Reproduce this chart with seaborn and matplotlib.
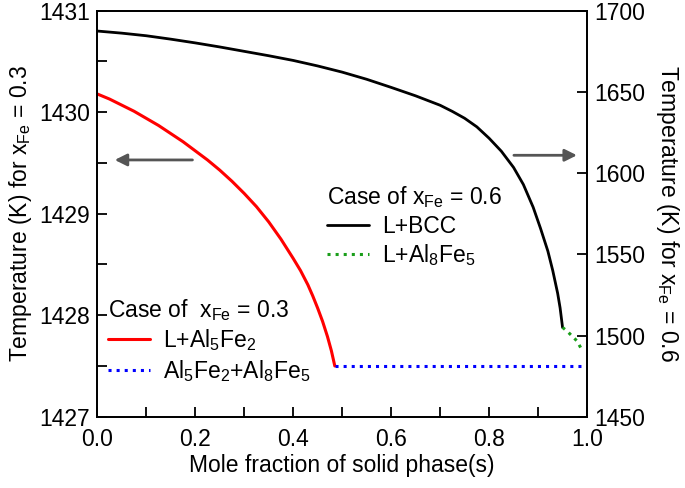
import numpy as np
import pandas as pd
import seaborn as sns
import matplotlib.pyplot as plt

# x_Fe = 0.3 case (left axis)
x_red = [0.0, 0.025, 0.05, 0.075, 0.10, 0.125, 0.15, 0.175, 0.20, 0.225, 0.25, 0.275,
         0.30, 0.325, 0.35, 0.375, 0.40, 0.415, 0.43, 0.44, 0.45, 0.46, 0.47, 0.478, 0.485]
t_red = [1430.18, 1430.13, 1430.07, 1430.01, 1429.94, 1429.87, 1429.79, 1429.71, 1429.62,
         1429.53, 1429.43, 1429.32, 1429.20, 1429.07, 1428.92, 1428.75, 1428.56, 1428.44,
         1428.30, 1428.19, 1428.07, 1427.94, 1427.79, 1427.65, 1427.50]
x_blue = [0.485, 1.0]
t_blue = [1427.5, 1427.5]

# x_Fe = 0.6 case (right axis)
x_black = [0.0, 0.05, 0.1, 0.15, 0.2, 0.25, 0.3, 0.35, 0.4, 0.45, 0.5, 0.55, 0.6, 0.65,
           0.7, 0.725, 0.75, 0.775, 0.8, 0.825, 0.85, 0.87, 0.89, 0.905, 0.92, 0.93,
           0.94, 0.945, 0.95]
t_black = [1687.5, 1686.2, 1684.6, 1682.5, 1680.2, 1677.7, 1675.0, 1672.3, 1669.4, 1666.0,
           1662.2, 1657.8, 1652.8, 1647.6, 1641.8, 1638.0, 1633.8, 1628.5, 1621.5, 1613.5,
           1603.5, 1593.0, 1579.0, 1566.0, 1552.0, 1540.0, 1526.0, 1517.0, 1505.0]
x_green = [0.95, 0.96, 0.97, 0.98, 0.987]
t_green = [1505.0, 1502.5, 1499.5, 1496.5, 1492.5]

labels_03 = ['L+Al$_5$Fe$_2$', 'Al$_5$Fe$_2$+Al$_8$Fe$_5$']
labels_06 = ['L+BCC', 'L+Al$_8$Fe$_5$']

sns.set_style('ticks')
plt.rcParams['font.family'] = ['Liberation Sans', 'DejaVu Sans']
plt.rcParams['mathtext.default'] = 'regular'
plt.rcParams.update({'text.color': 'black', 'axes.labelcolor': 'black',
                     'xtick.color': 'black', 'ytick.color': 'black',
                     'axes.edgecolor': 'black'})

fs = 16.5

fig = plt.figure(figsize=(6.85, 4.88), dpi=100)
ax = fig.add_axes([0.142, 0.146, 0.715, 0.832])
ax2 = ax.twinx()

sns.lineplot(x=x_red, y=t_red, ax=ax, color='#ff0000', lw=2.2, sort=False, estimator=None)
sns.lineplot(x=x_blue, y=t_blue, ax=ax, color='#0000ff', lw=2.2, ls=':', sort=False, estimator=None)
sns.lineplot(x=x_black, y=t_black, ax=ax2, color='black', lw=2.0, sort=False, estimator=None)
sns.lineplot(x=x_green, y=t_green, ax=ax2, color='#1a9e1a', lw=2.2, ls=':', sort=False, estimator=None)

ax.set_xlim(0, 1.0)
ax.set_ylim(1427, 1431)
ax2.set_ylim(1450, 1700)
ax.set_xticks(np.arange(0, 1.01, 0.2))
ax.set_xticks(np.arange(0.1, 1.0, 0.2), minor=True)
ax.set_yticks([1427, 1428, 1429, 1430, 1431])
ax.set_yticks([1427.5, 1428.5, 1429.5, 1430.5], minor=True)
ax2.set_yticks([1450, 1500, 1550, 1600, 1650, 1700])
ax.xaxis.set_major_formatter(plt.FormatStrFormatter('%.1f'))

for a in (ax, ax2):
    a.tick_params(which='both', direction='in', length=7, width=1.3, labelsize=fs,
                  top=False, pad=5)
    for s in a.spines.values():
        s.set_linewidth(1.3)
        s.set_color('black')
ax.tick_params(right=False)
ax.tick_params(axis='x', pad=8)
ax2.tick_params(left=False)

ax.set_xlabel('Mole fraction of solid phase(s)', fontsize=fs, labelpad=2)
ax.set_ylabel('Temperature (K) for x$_{Fe}$ = 0.3', fontsize=fs, labelpad=4)
ax2.set_ylabel('Temperature (K) for x$_{Fe}$ = 0.6', fontsize=fs, rotation=270, labelpad=26)

# arrows pointing to the axis of each case
ax.annotate('', xy=(0.03, 1429.53), xytext=(0.2, 1429.53),
            arrowprops=dict(arrowstyle='-|>', color='#555555', lw=2, mutation_scale=18))
ax2.annotate('', xy=(0.985, 1611), xytext=(0.845, 1611),
             arrowprops=dict(arrowstyle='-|>', color='#555555', lw=2, mutation_scale=18))

leg1 = ax2.legend(ax.lines[:2], labels_03, title='Case of  x$_{Fe}$ = 0.3', loc='upper left',
                  bbox_to_anchor=(0.022, 0.295), frameon=False, fontsize=fs,
                  title_fontsize=fs, alignment='left', handlelength=1.85,
                  handletextpad=0.55, borderaxespad=0, labelspacing=0.2, borderpad=0)
ax2.add_artist(leg1)
ax2.legend(ax2.lines[:2], labels_06, title='Case of x$_{Fe}$ = 0.6', loc='upper left',
           bbox_to_anchor=(0.469, 0.573), frameon=False, fontsize=fs,
           title_fontsize=fs, alignment='left', handlelength=1.85,
           handletextpad=0.55, borderaxespad=0, labelspacing=0.2, borderpad=0)

fig.savefig('out.png', dpi=100)
